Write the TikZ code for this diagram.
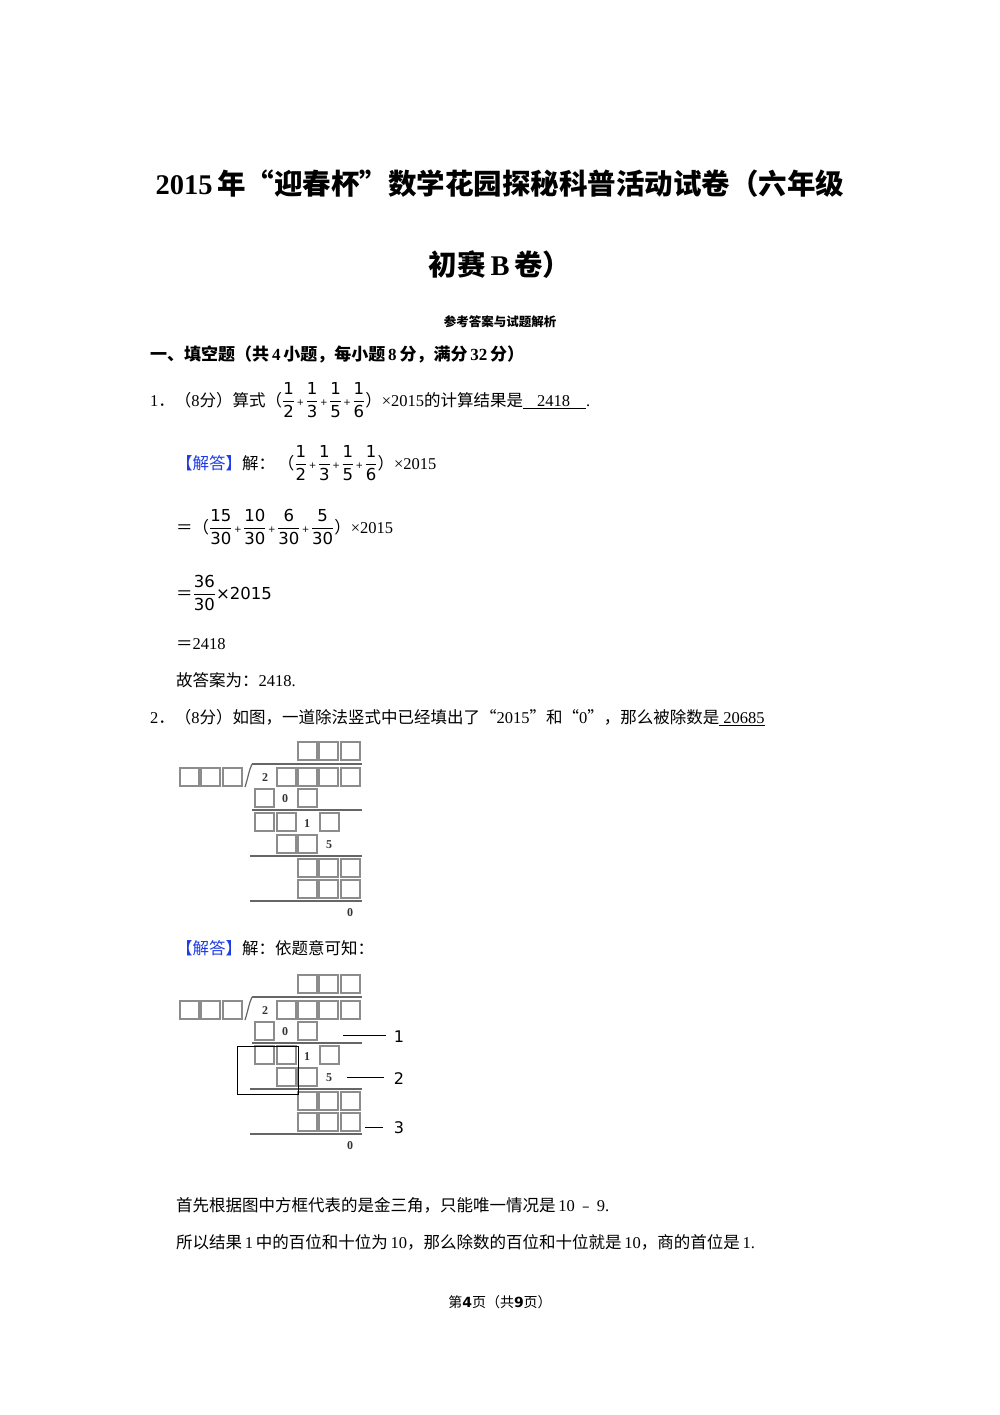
\documentclass[tikz,border=0pt]{standalone}
\usepackage{amsmath}
\usepackage{fontspec}
\setmainfont{Liberation Serif}
\newfontfamily\cjk{Noto Sans CJK SC}
\newfontfamily\fd{DejaVu Sans}
\newcommand\Fr[2]{$\dfrac{\text{\fd #1}}{\text{\fd #2}}$}
\newcommand\Pl{\hspace{1.5pt}\raisebox{1pt}{\fd\small+}\hspace{1.5pt}}
\definecolor{ansblue}{RGB}{30,60,230}
\begin{document}
\begin{tikzpicture}[x=1pt,y=-1pt,
  bx/.style={draw=black!45,line width=1.5pt},
  tx/.style={anchor=base west,inner sep=0pt,font=\fontsize{16.5}{20}\selectfont},
  dg/.style={inner sep=0pt,font=\fontsize{12}{12}\selectfont\bfseries,text=black!80},
  rule/.style={draw=black!60,line width=1.2pt}]
\useasboundingbox[fill=white] (0,0) rectangle (1000,1415);
\node[anchor=base,inner sep=0pt,font=\fontsize{28.5}{30}\selectfont\bfseries] (t1) at (500,195) {2015\,{\cjk 年“迎春杯”数学花园探秘科普活动试卷（六年级}};
\node[anchor=base,inner sep=0pt,font=\fontsize{28.5}{30}\selectfont\bfseries] (t2) at (500,275) {{\cjk 初赛}\,B\,{\cjk 卷）}};
\node[anchor=base,inner sep=0pt,font=\fontsize{12.5}{14}\selectfont\bfseries\cjk] (t3) at (500,326) {参考答案与试题解析};
\node[tx,font=\fontsize{17}{20}\selectfont\bfseries] (s1) at (150,360) {{\cjk 一、填空题（共}\,4\,{\cjk 小题，每小题}\,8\,{\cjk 分，满分}\,32\,{\cjk 分）}};
\node[tx] (q1) at (150,406) {1{\cjk ．（}8{\cjk 分）算式（}\Fr12\Pl\Fr13\Pl\Fr15\Pl\Fr16{\cjk ）}×2015{\cjk 的计算结果是}\underline{\hspace{14pt}2418\hspace{16pt}}.};
\node[tx] (a1) at (176,469) {{\cjk\color{ansblue}【解答】}{\cjk 解：\,（}\Fr12\Pl\Fr13\Pl\Fr15\Pl\Fr16{\cjk ）}×2015};
\node[tx] (a2) at (176,533) {{\cjk ＝（}\Fr{15}{30}\Pl\Fr{10}{30}\Pl\Fr6{30}\Pl\Fr5{30}{\cjk ）}×2015};
\node[tx] (a3) at (176,599) {{\cjk ＝}\Fr{36}{30}{\fd ×2015}};
\node[tx] (a4) at (176,649) {{\cjk ＝}2418};
\node[tx] (a5) at (176,686) {{\cjk 故答案为：}2418.};
\node[tx] (q2) at (150,723) {2{\cjk ．（}8{\cjk 分）如图，一道除法竖式中已经填出了“}2015{\cjk ”和“}0{\cjk ”，那么被除数是}\underline{\hspace{4pt}20685}};
\node[tx] (a6) at (176,954) {{\cjk\color{ansblue}【解答】}{\cjk 解：依题意可知：}};
\node[tx] (a7) at (176,1211) {{\cjk 首先根据图中方框代表的是金三角，只能唯一情况是}\,10\,{\cjk ﹣}\,9.};
\node[tx] (a8) at (176,1248) {{\cjk 所以结果}\,1\,{\cjk 中的百位和十位为}\,10{\cjk ，那么除数的百位和十位就是}\,10{\cjk ，商的首位是}\,1.};
\node[anchor=base,inner sep=0pt,font=\fontsize{14}{16}\selectfont] (ft) at (500,1307) {{\cjk 第}\textbf{\fd 4}{\cjk 页（共}\textbf{\fd 9}{\cjk 页）}};
% division figures
\foreach \yo in {0,233}{
\begin{scope}[shift={(0,\yo)}]
\foreach \x in {298,319,341}{\draw[bx] (\x,742) rectangle ++(19,18);}
\draw[rule] (252,764) -- (362,764);
\draw[rule] (245,787) .. controls (248,778) and (249,770) .. (252,764);
\foreach \x in {180,201,223}{\draw[bx] (\x,768) rectangle ++(19,18);}
\node[dg] at (265,778) {2};
\foreach \x in {277,298,319,341}{\draw[bx] (\x,768) rectangle ++(19,18);}
\draw[bx] (255,789) rectangle ++(19,18);
\node[dg] at (285,799) {0};
\draw[bx] (298,789) rectangle ++(19,18);
\draw[rule] (252,810) -- (362,810);
\draw[bx] (255,813) rectangle ++(19,18);
\draw[bx] (277,813) rectangle ++(19,18);
\node[dg] at (307,824) {1};
\draw[bx] (320,813) rectangle ++(19,18);
\draw[bx] (277,835) rectangle ++(19,18);
\draw[bx] (298,835) rectangle ++(19,18);
\node[dg] at (329,845) {5};
\draw[rule] (250,856) -- (362,856);
\foreach \x in {298,319,341}{\draw[bx] (\x,859) rectangle ++(19,18);\draw[bx] (\x,880) rectangle ++(19,18);}
\draw[rule] (250,901) -- (362,901);
\node[dg] at (350,913) {0};
\end{scope}}
\draw[line width=1pt] (343,1035) -- (386,1035);
\draw[line width=1pt] (347,1077) -- (384,1077);
\draw[line width=1pt] (365,1127) -- (383,1127);
\node[font=\fontsize{16}{16}\selectfont\fd,inner sep=0pt] (n1) at (399,1037) {1};
\node[font=\fontsize{16}{16}\selectfont\fd,inner sep=0pt] (n2) at (399,1079) {2};
\node[font=\fontsize{16}{16}\selectfont\fd,inner sep=0pt] (n3) at (399,1128) {3};
\draw[line width=1pt] (237,1046) rectangle (298,1094);
\end{tikzpicture}
\end{document}
